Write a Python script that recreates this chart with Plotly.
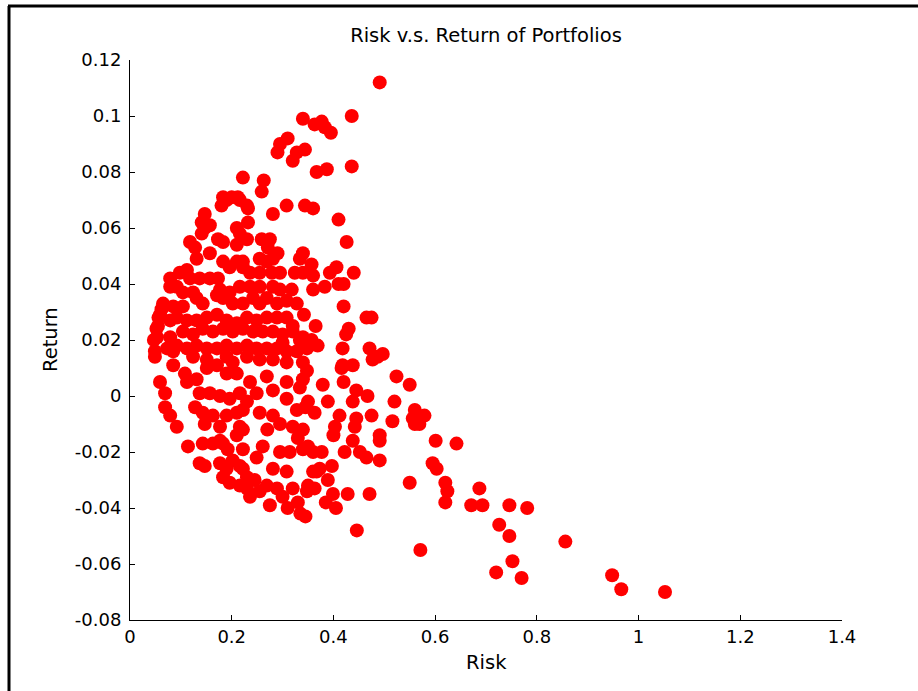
import plotly.graph_objects as go

risk = [
    0.491, 0.436, 0.340, 0.363, 0.377, 0.383, 0.395, 0.310, 0.295, 0.290,
    0.344, 0.328, 0.320, 0.436, 0.367, 0.387, 0.222, 0.263, 0.259, 0.183,
    0.200, 0.212, 0.190, 0.216, 0.180, 0.230, 0.232, 0.281, 0.308, 0.344,
    0.360, 0.147, 0.141, 0.157, 0.210, 0.410, 0.426, 0.147, 0.141, 0.216,
    0.230, 0.232, 0.118, 0.128, 0.173, 0.183, 0.210, 0.259, 0.275, 0.271,
    0.290, 0.340, 0.334, 0.157, 0.131, 0.183, 0.210, 0.222, 0.255, 0.269,
    0.281, 0.357, 0.079, 0.098, 0.112, 0.118, 0.137, 0.157, 0.173, 0.196,
    0.222, 0.236, 0.255, 0.279, 0.295, 0.324, 0.340, 0.360, 0.393, 0.406,
    0.440, 0.410, 0.420, 0.360, 0.383, 0.079, 0.092, 0.104, 0.124, 0.177,
    0.196, 0.216, 0.236, 0.255, 0.281, 0.295, 0.318, 0.065, 0.059, 0.085,
    0.104, 0.131, 0.143, 0.171, 0.183, 0.202, 0.222, 0.242, 0.255, 0.269,
    0.289, 0.308, 0.328, 0.420, 0.465, 0.475, 0.342, 0.365, 0.430, 0.425,
    0.353, 0.369, 0.418, 0.471, 0.497, 0.334, 0.055, 0.079, 0.092, 0.112,
    0.131, 0.151, 0.171, 0.190, 0.210, 0.230, 0.249, 0.269, 0.289, 0.308,
    0.320, 0.300, 0.053, 0.049, 0.079, 0.073, 0.104, 0.124, 0.143, 0.163,
    0.183, 0.202, 0.222, 0.242, 0.261, 0.281, 0.300, 0.320, 0.340, 0.357,
    0.092, 0.112, 0.131, 0.151, 0.171, 0.190, 0.210, 0.230, 0.249, 0.269,
    0.289, 0.308, 0.328, 0.348, 0.487, 0.477, 0.418, 0.438, 0.416, 0.524,
    0.550, 0.379, 0.420, 0.445, 0.467, 0.350, 0.389, 0.438, 0.520, 0.560,
    0.579, 0.556, 0.569, 0.560, 0.412, 0.363, 0.475, 0.516, 0.445, 0.403,
    0.442, 0.491, 0.491, 0.400, 0.438, 0.601, 0.642, 0.340, 0.350, 0.377,
    0.422, 0.452, 0.465, 0.491, 0.595, 0.603, 0.397, 0.367, 0.389, 0.550,
    0.620, 0.624, 0.620, 0.687, 0.350, 0.363, 0.471, 0.428, 0.399, 0.671,
    0.693, 0.746, 0.781, 0.726, 0.746, 0.856, 0.752, 0.720, 0.770, 0.948,
    0.966, 1.052, 0.571, 0.446, 0.049, 0.085, 0.059, 0.069, 0.069, 0.079,
    0.092, 0.114, 0.137, 0.147, 0.143, 0.163, 0.177, 0.128, 0.147, 0.177,
    0.112, 0.131, 0.108, 0.151, 0.171, 0.190, 0.210, 0.137, 0.157, 0.177,
    0.196, 0.216, 0.143, 0.163, 0.190, 0.210, 0.222, 0.236, 0.249, 0.216,
    0.210, 0.183, 0.192, 0.177, 0.190, 0.183, 0.196, 0.216, 0.230, 0.222,
    0.202, 0.216, 0.230, 0.222, 0.261, 0.249, 0.236, 0.269, 0.289, 0.281,
    0.308, 0.295, 0.314, 0.340, 0.360, 0.360, 0.348, 0.320, 0.295, 0.320,
    0.330, 0.222, 0.308, 0.328, 0.345, 0.270, 0.308, 0.334, 0.340, 0.348,
    0.281, 0.308, 0.230, 0.255, 0.190, 0.202, 0.124, 0.151, 0.085, 0.269,
    0.255, 0.281, 0.281, 0.230, 0.047, 0.052, 0.056, 0.062, 0.275, 0.310,
    0.335, 0.345, 0.385, 0.405, 0.330, 0.300, 0.255, 0.245, 0.373, 0.340,
]

ret = [
    0.112, 0.100, 0.099, 0.097, 0.098, 0.096, 0.094, 0.092, 0.090, 0.087,
    0.088, 0.087, 0.084, 0.082, 0.080, 0.081, 0.078, 0.077, 0.073, 0.071,
    0.071, 0.071, 0.070, 0.070, 0.068, 0.068, 0.067, 0.065, 0.068, 0.068,
    0.067, 0.065, 0.062, 0.061, 0.060, 0.063, 0.055, 0.060, 0.058, 0.058,
    0.056, 0.062, 0.055, 0.053, 0.056, 0.055, 0.054, 0.056, 0.056, 0.053,
    0.051, 0.051, 0.049, 0.051, 0.049, 0.048, 0.048, 0.048, 0.049, 0.048,
    0.049, 0.047, 0.042, 0.044, 0.045, 0.042, 0.042, 0.042, 0.042, 0.046,
    0.046, 0.044, 0.044, 0.044, 0.044, 0.044, 0.044, 0.043, 0.044, 0.046,
    0.044, 0.040, 0.040, 0.038, 0.039, 0.039, 0.039, 0.037, 0.037, 0.038,
    0.037, 0.039, 0.039, 0.039, 0.039, 0.038, 0.038, 0.033, 0.029, 0.032,
    0.032, 0.035, 0.033, 0.036, 0.035, 0.033, 0.033, 0.035, 0.033, 0.035,
    0.033, 0.034, 0.033, 0.032, 0.028, 0.028, 0.029, 0.025, 0.024, 0.022,
    0.018, 0.018, 0.017, 0.017, 0.015, 0.020, 0.025, 0.027, 0.028, 0.027,
    0.027, 0.028, 0.029, 0.027, 0.026, 0.028, 0.027, 0.028, 0.028, 0.028,
    0.025, 0.019, 0.021, 0.016, 0.021, 0.017, 0.023, 0.022, 0.024, 0.023,
    0.024, 0.023, 0.024, 0.023, 0.023, 0.023, 0.022, 0.023, 0.021, 0.020,
    0.018, 0.017, 0.018, 0.017, 0.017, 0.018, 0.017, 0.018, 0.017, 0.017,
    0.017, 0.016, 0.016, 0.017, 0.014, 0.013, 0.011, 0.011, 0.010, 0.007,
    0.004, 0.004, 0.005, 0.002, 0.000, -0.002, -0.002, -0.002, -0.002, -0.005,
    -0.007, -0.008, -0.010, -0.010, -0.007, -0.006, -0.007, -0.009, -0.008, -0.011,
    -0.011, -0.014, -0.016, -0.014, -0.016, -0.016, -0.017, -0.012, -0.018, -0.020,
    -0.020, -0.020, -0.022, -0.023, -0.024, -0.026, -0.025, -0.027, -0.030, -0.031,
    -0.031, -0.034, -0.038, -0.033, -0.032, -0.033, -0.035, -0.035, -0.035, -0.039,
    -0.039, -0.039, -0.040, -0.046, -0.050, -0.052, -0.059, -0.063, -0.065, -0.064,
    -0.069, -0.070, -0.055, -0.048, 0.014, 0.011, 0.005, 0.001, -0.004, -0.007,
    -0.011, -0.018, -0.024, -0.025, -0.017, -0.017, -0.016, -0.004, -0.010, -0.011,
    0.005, 0.006, 0.008, 0.010, 0.011, 0.008, 0.008, 0.001, 0.001, 0.000,
    -0.001, 0.001, -0.006, -0.007, -0.007, -0.006, -0.005, 0.005, 0.001, -0.011,
    -0.014, -0.017, -0.019, -0.024, -0.026, -0.029, -0.031, -0.032, -0.033, -0.019,
    -0.023, -0.025, -0.029, -0.026, -0.018, -0.022, -0.036, -0.032, -0.033, -0.026,
    -0.027, -0.020, -0.020, -0.019, -0.020, -0.027, -0.034, -0.033, -0.010, -0.011,
    -0.015, -0.012, -0.001, -0.005, -0.004, -0.012, 0.005, 0.003, 0.012, 0.009,
    0.013, 0.012, 0.014, 0.013, 0.014, 0.012, 0.014, 0.013, 0.016, 0.007,
    -0.006, -0.007, 0.002, -0.002, 0.020, 0.024, 0.028, 0.031, -0.039, -0.040,
    -0.042, -0.043, -0.038, -0.040, -0.038, -0.036, -0.034, -0.030, -0.026, 0.006,
]

x_ticks = [0, 0.2, 0.4, 0.6, 0.8, 1.0, 1.2, 1.4]
x_labels = ["0", "0.2", "0.4", "0.6", "0.8", "1", "1.2", "1.4"]
y_ticks = [-0.08, -0.06, -0.04, -0.02, 0, 0.02, 0.04, 0.06, 0.08, 0.1, 0.12]
y_labels = ["-0.08", "-0.06", "-0.04", "-0.02", "0", "0.02", "0.04", "0.06", "0.08", "0.1", "0.12"]

FONT = "DejaVu Sans, Arial, Helvetica, sans-serif"
FS = 18
FS_LABEL = 19.5

fig = go.Figure(
    go.Scatter(
        x=risk, y=ret, mode="markers",
        marker=dict(color="#ff0000", size=14, line=dict(width=0)),
        showlegend=False, hoverinfo="skip",
    )
)

axis_common = dict(
    showline=True, linecolor="black", linewidth=1, mirror=False,
    ticks="inside", ticklen=5, tickcolor="black", tickwidth=1,
    showgrid=False, zeroline=False,
    tickfont=dict(family=FONT, size=FS, color="black"),
)

fig.update_xaxes(range=[0, 1.4], tickvals=x_ticks, ticktext=x_labels, **axis_common)
fig.update_yaxes(range=[-0.08, 0.12], tickvals=y_ticks, ticktext=y_labels,
                 ticklabelstandoff=4, **axis_common)

W, H = 918, 691
L, R, T, B = 130, 76, 60, 71
pw, ph = W - L - R, H - T - B

def px_x(p):
    return (p - L) / pw

def px_y(p):
    return (H - B - p) / ph

fig.update_layout(
    width=W, height=H,
    margin=dict(l=L, r=R, t=T, b=B),
    paper_bgcolor="white", plot_bgcolor="white",
    hovermode=False,
    font=dict(family=FONT, size=FS, color="black"),
    title=dict(text="Risk v.s. Return of Portfolios", x=0.5, xref="paper",
               y=1 - 35 / H, yref="container", xanchor="center", yanchor="middle",
               font=dict(family=FONT, size=FS_LABEL, color="black")),
    annotations=[
        dict(text="Risk", xref="paper", yref="paper", x=0.5, y=px_y(662),
             xanchor="center", yanchor="middle", showarrow=False,
             font=dict(family=FONT, size=FS_LABEL, color="black")),
        dict(text="Return", xref="paper", yref="paper", x=px_x(50), y=0.5,
             xanchor="center", yanchor="middle", showarrow=False, textangle=-90,
             font=dict(family=FONT, size=FS_LABEL, color="black")),
    ],
    shapes=[
        dict(type="line", xref="paper", yref="paper", layer="above",
             x0=px_x(9), x1=px_x(9), y0=px_y(H + 2), y1=px_y(6),
             line=dict(color="black", width=3)),
        dict(type="line", xref="paper", yref="paper", layer="above",
             x0=px_x(8), x1=px_x(W + 2), y0=px_y(6), y1=px_y(6),
             line=dict(color="black", width=3)),
    ],
)

fig.write_html(
    "out.html",
    config={"displayModeBar": False, "staticPlot": True},
    post_script="document.body.style.margin='0';document.body.style.overflow='hidden';",
)
